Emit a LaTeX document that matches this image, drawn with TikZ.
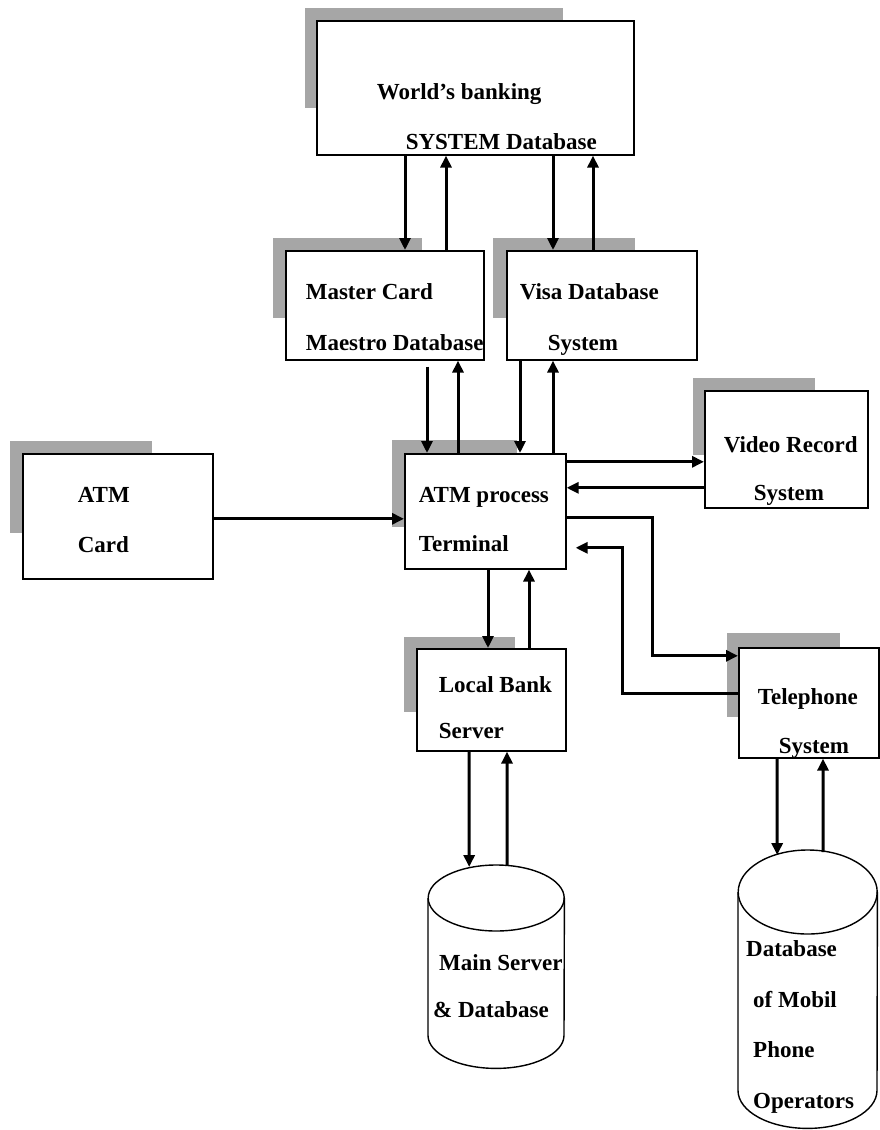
\documentclass[tikz,border=0pt]{standalone}
\usepackage{fontspec}
\setmainfont{Liberation Serif}
\usetikzlibrary{arrows.meta,calc}
\newcommand{\boxfont}{\fontsize{23}{50}\selectfont\bfseries}
% fixed-size text block: width, height, first baseline, lines
\newcommand{\inside}[4]{\parbox[c][#2][t]{#1}{\raggedright\rule{0pt}{#3}#4}}
\tikzset{
  box/.style={draw,line width=1.6pt,fill=white,inner sep=0pt,anchor=north west,font=\boxfont},
  store/.style={inner sep=0pt,anchor=north west,font=\boxfont},
  can/.style={line width=1.4pt},
  plate/.style={fill=black!35},
  arr/.style={-{Triangle[length=12pt,width=11pt]},line width=3pt},
}
\begin{document}
\begin{tikzpicture}[x=1pt,y=-1pt]
\fill[white] (0,0) rectangle (879,1130);
\useasboundingbox (0,0) rectangle (879,1130);
% shadows
\fill[plate] (305,8) rectangle ++(258,100);
\fill[plate] (273,238) rectangle ++(149,80);
\fill[plate] (493,238) rectangle ++(142,80);
\fill[plate] (392,440) rectangle ++(125,87);
\fill[plate] (10,441) rectangle ++(142,92);
\fill[plate] (693,378) rectangle ++(122,77);
\fill[plate] (727,633) rectangle ++(113,84);
\fill[plate] (404,637) rectangle ++(111,75);
% boxes
\node[box] (world) at (316,20) {\inside{317pt}{134pt}{79pt}{\hspace*{60pt}World’s~banking\\\hspace*{89pt}SYSTEM~Database}};
\node[box] (master) at (285,250) {\inside{198pt}{109pt}{49pt}{\hspace*{20pt}Master~Card\\[1pt]\hspace*{20pt}Maestro~Database}};
\node[box] (visa) at (506,250) {\inside{190pt}{109pt}{49pt}{\hspace*{13pt}Visa~Database\\[1pt]\hspace*{41pt}System}};
\node[box] (atm) at (404,453) {\inside{161pt}{115pt}{49pt}{\hspace*{14pt}ATM~process\\[-1pt]\hspace*{14pt}Terminal}};
\node[box] (card) at (22,453) {\inside{190pt}{125pt}{49pt}{\hspace*{55pt}ATM\\\hspace*{55pt}Card}};
\node[box] (video) at (704,390) {\inside{163pt}{117pt}{62pt}{\hspace*{19pt}Video~Record\\[-2pt]\hspace*{49pt}System}};
\node[box] (phone) at (738,647) {\inside{140pt}{110pt}{57pt}{\hspace*{19pt}Telephone\\[-1pt]\hspace*{40pt}System}};
\node[box] (local) at (416,648) {\inside{149pt}{102pt}{44pt}{\hspace*{22pt}Local~Bank\\[-4pt]\hspace*{22pt}Server}};
% databases
\node[store] (main) at (428,865) {\inside{136pt}{203pt}{105pt}{\hspace*{11pt}Main~Server\\[-3pt]\hspace*{5pt}\&~Database}};
\node[store] (mobile) at (738,850) {\inside{139pt}{278pt}{106pt}{\hspace*{8pt}Database\\[1pt]\hspace*{15pt}of~Mobil\\\hspace*{15pt}Phone\\[1pt]\hspace*{15pt}Operators}};
\draw[can] ($(main.north)+(0,33)$) ellipse [x radius=68,y radius=33];
\draw[can] ($(main.north west)+(0,33)$) -- ($(main.south west)+(0,-33)$)
  arc[start angle=180,end angle=0,x radius=68,y radius=33] -- ($(main.north east)+(0,33)$);
\draw[can] ($(mobile.north)+(0,42)$) ellipse [x radius=69.5,y radius=42];
\draw[can] ($(mobile.north west)+(0,42)$) -- ($(mobile.south west)+(0,-38)$)
  arc[start angle=180,end angle=0,x radius=69.5,y radius=38] -- ($(mobile.north east)+(0,42)$);
% connectors
\draw[arr] ([xshift=89pt]world.south west) -- ([xshift=120pt]master.north west);
\draw[arr] ([xshift=161pt]master.north west) -- ([xshift=130pt]world.south west);
\draw[arr] ([xshift=237pt]world.south west) -- ([xshift=47pt]visa.north west);
\draw[arr] ([xshift=87pt]visa.north west) -- ([xshift=277pt]world.south west);
\draw[arr] ([xshift=142pt,yshift=-6pt]master.south west) -- ([xshift=23pt]atm.north west);
\draw[arr] ([xshift=54pt]atm.north west) -- ([xshift=173pt]master.south west);
\draw[arr] ([xshift=14pt]visa.south west) -- ([xshift=116pt]atm.north west);
\draw[arr] ([xshift=149pt]atm.north west) -- ([xshift=47pt]visa.south west);
\draw[arr] ([yshift=-2.5pt]card.east) -- ([yshift=-7.5pt]atm.west);
\draw[arr] ([yshift=49.5pt]atm.east) -- ([yshift=-12.5pt]video.west);
\draw[arr] ([yshift=-38.5pt]video.west) -- ([yshift=23.5pt]atm.east);
\draw[arr] ([yshift=-6.5pt]atm.east) -- ++(86,0) |- ([yshift=47pt]phone.west);
\draw[arr] ([yshift=9pt]phone.west) -- ++(-116,0) |- ([xshift=9pt,yshift=-36.5pt]atm.east);
\draw[arr] ([xshift=84pt]atm.south west) -- ([xshift=72pt]local.north west);
\draw[arr] ([xshift=113pt]local.north west) -- ([xshift=125pt]atm.south west);
\draw[arr] ([xshift=53pt]local.south west) -- ([xshift=-27pt,yshift=-2pt]main.north);
\draw[arr] ([xshift=11pt]main.north) -- ([xshift=91pt]local.south west);
\draw[arr] ([xshift=39pt]phone.south west) -- ([xshift=-30.5pt,yshift=-5pt]mobile.north);
\draw[arr] ([xshift=15.5pt,yshift=-2pt]mobile.north) -- ([xshift=85pt]phone.south west);
\end{tikzpicture}
\end{document}
